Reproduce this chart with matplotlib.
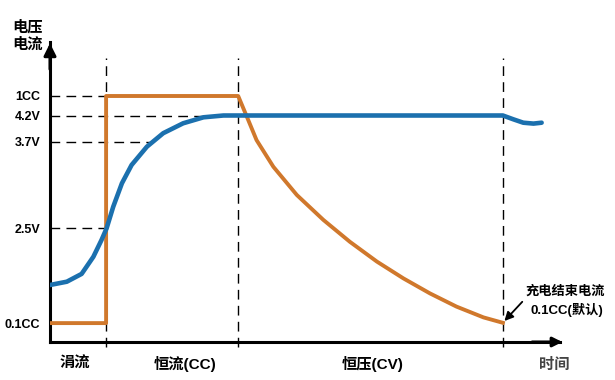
import matplotlib.pyplot as plt

plt.rcParams['font.family'] = ['Liberation Sans', 'Noto Sans CJK SC', 'DejaVu Sans']

# phase boundaries (time) and levels (relative units, 0..100)
phase_ends = [11, 36.9, 88.8]
level_names = ['0.1CC', '2.5V', '3.7V', '4.2V', '1CC']
level_values = [6.3, 37.9, 66.7, 75.5, 82]
level_dash_ends = [0, 11, 19.6, 31, 11]

# voltage curve (blue)
volt_t = [0, 3.3, 6.2, 8.5, 10.1, 11.1, 12.4, 14.1, 16, 19, 22.2, 26.1,
          30.1, 34, 37.3, 88.8, 90.9, 92.8, 94.8, 96.4]
volt_v = [19, 20.1, 22.7, 28.4, 34, 37.9, 45.1, 52.9, 59, 65.1, 69.6, 72.9,
          74.9, 75.5, 75.5, 75.5, 74.2, 73.1, 72.8, 73.1]

# current curve (orange)
curr_t = [0, 11, 11, 36.9, 38.6, 40.5, 43.8, 48.4, 53.6, 58.8, 64.1, 69.3,
          74.5, 79.7, 85, 88.8]
curr_v = [6.3, 6.3, 82, 82, 75.1, 67.3, 58.4, 49, 40.7, 33.4, 26.8, 21.2,
          16.2, 11.8, 8.2, 6.4]

phase_labels = ['涓流', '恒流(CC)', '恒压(CV)']
phase_label_t = [4.9, 26.5, 63.3]

fig = plt.figure(figsize=(6.15, 3.8), dpi=100)
ax = fig.add_axes([50 / 615, 38 / 380, 510 / 615, 300 / 380])
ax.set_xlim(0, 100)
ax.set_ylim(0, 100)
for s in ['top', 'right']:
    ax.spines[s].set_visible(False)
for s in ['left', 'bottom']:
    ax.spines[s].set_linewidth(2.2)
    ax.spines[s].set_color('black')

# axis arrows
ax.annotate('', xy=(0, 100.5), xytext=(0, 90),
            arrowprops=dict(arrowstyle='-|>', color='black', lw=2.2, mutation_scale=18),
            annotation_clip=False)
ax.annotate('', xy=(101, 0), xytext=(94, 0),
            arrowprops=dict(arrowstyle='-|>', color='black', lw=2.2, mutation_scale=14),
            annotation_clip=False)

# vertical phase lines
for t in phase_ends:
    ax.plot([t, t], [-1.5, 94.7], color='black', lw=1, ls=(0, (7, 4.5)), clip_on=False)

# horizontal level lines
for v, e in zip(level_values, level_dash_ends):
    if e > 0:
        ax.plot([0, e], [v, v], color='black', lw=1, ls=(0, (7, 4.5)))

ax.plot(curr_t, curr_v, color='#D0782C', lw=2.8, solid_joinstyle='round', zorder=3)
ax.plot(volt_t, volt_v, color='#1B70AE', lw=3.3, solid_capstyle='round',
        solid_joinstyle='round', zorder=4)

ax.set_yticks(level_values)
ax.set_yticklabels(level_names, fontsize=9, fontweight='bold')
ax.tick_params(axis='y', length=0, pad=7)
ax.set_xticks([])

ax.text(-4.5, 102, '电压\n电流', fontsize=11, fontweight='bold', ha='center',
        va='center', linespacing=1.3)

for lab, t in zip(phase_labels, phase_label_t):
    ax.text(t, -7.2, lab, fontsize=11, fontweight='bold', ha='center', va='center')
ax.text(98.8, -7.6, '时间', fontsize=11, fontweight='bold', ha='center', va='center',
        color='#444444')

ax.text(101, 16.7, '充电结束电流', fontsize=9.5, fontweight='bold', ha='center',
        va='center', clip_on=False)
ax.text(101.3, 10.6, '0.1CC(默认)', fontsize=9.5, fontweight='bold', ha='center',
        va='center', clip_on=False)
ax.annotate('', xy=(89.1, 7.0), xytext=(92.6, 13.4),
            arrowprops=dict(arrowstyle='-|>', color='black', lw=1.3,
                            mutation_scale=13, shrinkA=0, shrinkB=0),
            annotation_clip=False)

fig.savefig('out.png', dpi=100)
